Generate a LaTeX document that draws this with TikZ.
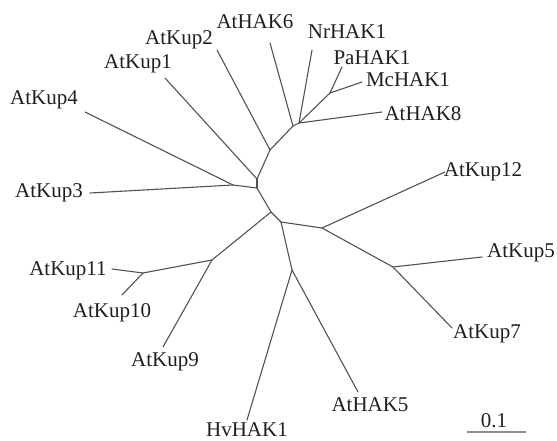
\documentclass[tikz,border=0pt]{standalone}
\usepackage{fontspec}
\setmainfont{Liberation Serif}
\begin{document}
\begin{tikzpicture}[x=1pt,y=-1pt,
  branch/.style={draw=black!68,line width=1.1pt,line cap=round,line join=round},
  taxon/.style={inner sep=0pt,text=black!88,font=\fontsize{21}{24}\selectfont},
  scalebar/.style={draw=black!45,line width=2pt}]
\useasboundingbox (0,0) rectangle (557,441);
% leaf tips
\coordinate (tKup2) at (217,50);
\coordinate (tKup1) at (165,78);
\coordinate (tKup4) at (85,112);
\coordinate (tKup3) at (90,193);
\coordinate (tHAK6) at (270,43);
\coordinate (tNr) at (312,50);
\coordinate (tPa) at (342,67);
\coordinate (tMc) at (362,82);
\coordinate (tHAK8) at (382,112);
\coordinate (tKup12) at (445,172);
\coordinate (tKup5) at (482,257);
\coordinate (tKup7) at (452,328);
\coordinate (tHAK5) at (358,392);
\coordinate (tHv) at (247,420);
\coordinate (tKup9) at (163,347);
\coordinate (tKup10) at (122,295);
\coordinate (tKup11) at (112,269);
% internal nodes
\coordinate (nB) at (233,185);
\coordinate (nC) at (257,188);
\coordinate (nA) at (257,179);
\coordinate (nD) at (270,150);
\coordinate (nF) at (293,126);
\coordinate (nG) at (299,123);
\coordinate (nH) at (330,93);
\coordinate (nE) at (271,212);
\coordinate (nI) at (212,260);
\coordinate (nJ) at (143,273);
\coordinate (nK) at (281,222);
\coordinate (nL) at (322,228);
\coordinate (nN) at (393,267);
\coordinate (nM) at (292,270);
% branches
\draw[branch] (nB) -- (tKup3);
\draw[branch] (nB) -- (tKup4);
\draw[branch] (nB) -- (nC);
\draw[branch] (nC) -- (nA);
\draw[branch] (nA) -- (tKup1);
\draw[branch] (nA) -- (nD);
\draw[branch] (nD) -- (tKup2);
\draw[branch] (nD) -- (nF);
\draw[branch] (nF) -- (tHAK6);
\draw[branch] (nF) -- (nG);
\draw[branch] (nG) -- (tNr);
\draw[branch] (nG) -- (tHAK8);
\draw[branch] (nG) -- (nH);
\draw[branch] (nH) -- (tPa);
\draw[branch] (nH) -- (tMc);
\draw[branch] (nC) -- (nE);
\draw[branch] (nE) -- (nI);
\draw[branch] (nI) -- (tKup9);
\draw[branch] (nI) -- (nJ);
\draw[branch] (nJ) -- (tKup10);
\draw[branch] (nJ) -- (tKup11);
\draw[branch] (nE) -- (nK);
\draw[branch] (nK) -- (nL);
\draw[branch] (nL) -- (tKup12);
\draw[branch] (nL) -- (nN);
\draw[branch] (nN) -- (tKup5);
\draw[branch] (nN) -- (tKup7);
\draw[branch] (nK) -- (nM);
\draw[branch] (nM) -- (tHAK5);
\draw[branch] (nM) -- (tHv);
% labels
\node[taxon] (lHAK6) at (255,22) {AtHAK6};
\node[taxon] (lNr) at (347,32) {NrHAK1};
\node[taxon] (lPa) at (372,58) {PaHAK1};
\node[taxon] (lMc) at (408,80) {McHAK1};
\node[taxon] (lHAK8) at (423,114) {AtHAK8};
\node[taxon] (lKup12) at (483,172) {AtKup12};
\node[taxon] (lKup5) at (521,253) {AtKup5};
\node[taxon] (lKup7) at (487,334) {AtKup7};
\node[taxon] (lHAK5) at (370,405) {AtHAK5};
\node[taxon,anchor=base] (lHv) at (247,436.5) {HvHAK1};
\node[taxon] (lKup9) at (165,362) {AtKup9};
\node[taxon] (lKup10) at (112,313) {AtKup10};
\node[taxon] (lKup11) at (68,271) {AtKup11};
\node[taxon] (lKup3) at (49,193) {AtKup3};
\node[taxon] (lKup4) at (44,100) {AtKup4};
\node[taxon] (lKup1) at (138,64) {AtKup1};
\node[taxon] (lKup2) at (179,40) {AtKup2};
% scale bar
\coordinate (sL) at (467,432);
\coordinate (sR) at (526,432);
\draw[scalebar] (sL) -- (sR);
\node[taxon] (lScale) at (494,421) {0.1};
\end{tikzpicture}
\end{document}
